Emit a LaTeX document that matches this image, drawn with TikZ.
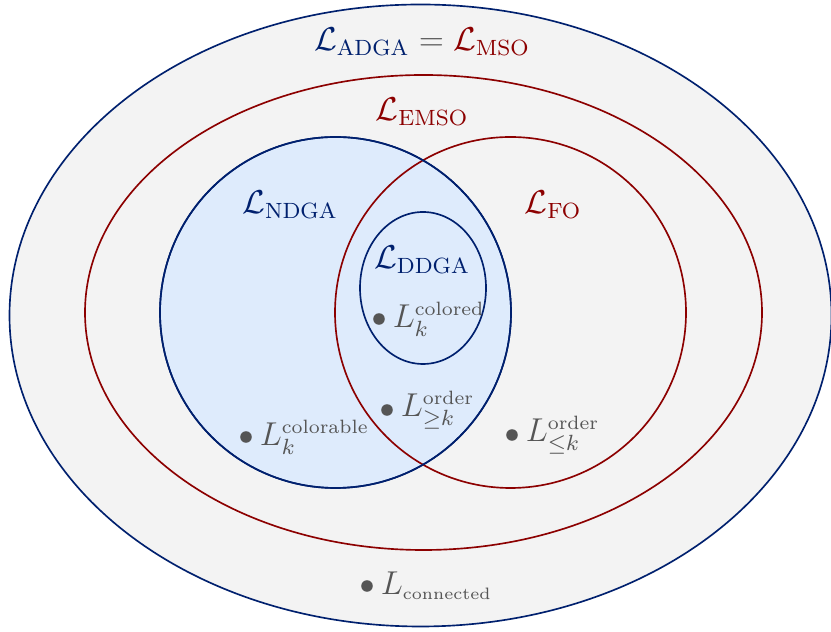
\documentclass[tikz,border=0pt]{standalone}
\usepackage{amsmath}
\usetikzlibrary{positioning}

\definecolor{setblue}{RGB}{0,32,110}
\definecolor{setred}{RGB}{140,0,0}
\definecolor{langgray}{RGB}{85,85,85}
\definecolor{ndgafill}{RGB}{222,235,252}
\definecolor{outerfill}{RGB}{243,243,243}

\newcommand{\lang}[1]{\text{\scriptsize #1}}

\begin{document}
\begin{tikzpicture}[x=0.01275cm, y=-0.01275cm,
        blueset/.style = {draw=setblue, semithick},
        redset/.style = {draw=setred, semithick},
        setname/.style = {font=\large},
        langdot/.style = {circle, fill=langgray, inner sep=0pt, minimum size=4.2pt},
        member/.style = {text=langgray, font=\large, inner sep=0pt, anchor=west, xshift=2.5pt}]
        \useasboundingbox (0,0) rectangle (831,632);

        % the sets
        \draw [blueset, fill=outerfill] (420.5,315.5) ellipse [x radius=411, y radius=311];
        \draw [redset] (423.5,312.5) ellipse [x radius=338.5, y radius=237.5];
        \draw [blueset, fill=ndgafill] (335.5,312.5) circle [radius=175.5];
        \draw [redset] (510.5,312.5) circle [radius=175.5];
        \draw [blueset] (335.5,312.5) circle [radius=175.5];
        \draw [blueset] (423,288) ellipse [x radius=63, y radius=76];

        \node [setname] (adga) at (422,42)
        {${\color{setblue}\mathcal{L}_{\text{ADGA}}} \mathrel{\color{langgray}=}
        {\color{setred}\mathcal{L}_{\text{MSO}}}$};
        \node [setname, text=setred] (emso) at (422,112) {$\mathcal{L}_{\text{EMSO}}$};
        \node [setname, text=setblue] (ndga) at (290,205) {$\mathcal{L}_{\text{NDGA}}$};
        \node [setname, text=setred] (fo) at (553,205) {$\mathcal{L}_{\text{FO}}$};
        \node [setname, text=setblue] (ddga) at (422,260) {$\mathcal{L}_{\text{DDGA}}$};

        % the languages
        \node [langdot] (colored) at (379,319) {};
        \node [member] (coloredlabel) at (colored.east) {$L_k^{\lang{colored}}$};
        \node [langdot] (geq) at (387,410) {};
        \node [member] (geqlabel) at (geq.east) {$L_{\geq k}^{\lang{order}}$};
        \node [langdot] (colorable) at (246,437) {};
        \node [member] (colorablelabel) at (colorable.east) {$L_k^{\lang{colorable}}$};
        \node [langdot] (leq) at (512,435) {};
        \node [member] (leqlabel) at (leq.east) {$L_{\leq k}^{\lang{order}}$};
        \node [langdot] (connected) at (367,586) {};
        \node [member] (connectedlabel) at (connected.east)
        {$L_{\scriptscriptstyle\text{connected}}$};
\end{tikzpicture}
\end{document}
